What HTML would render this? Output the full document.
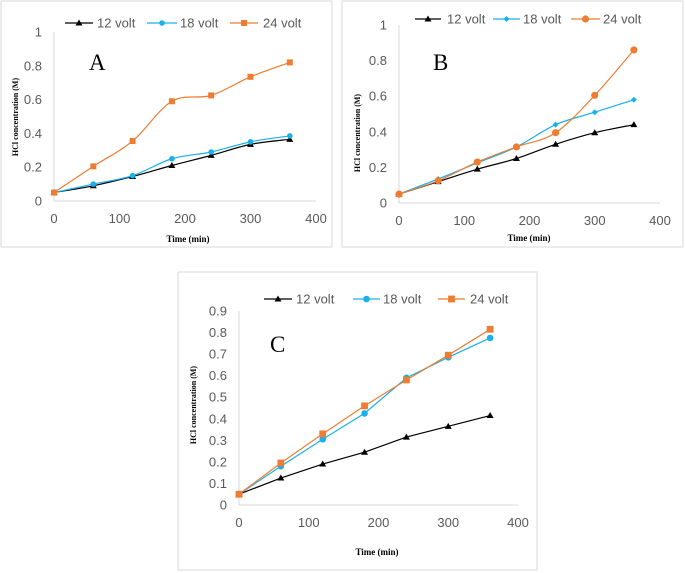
<!DOCTYPE html>
<html><head><meta charset="utf-8"><style>
body{margin:0;background:#fff;width:685px;height:573px;overflow:hidden}
svg{position:absolute;left:0;top:0}
text{font-family:"Liberation Sans",sans-serif}
</style></head><body>
<svg id="s" width="685" height="573"></svg>
<script>
const xCats=[0,60,120,180,240,300,360];
const xTicks=[0,100,200,300,400];
const seriesNames=["12 volt","18 volt","24 volt"];
const yTicksAB=[0,0.2,0.4,0.6,0.8,1];
const yTicksABLabels=["0","0.2","0.4","0.6","0.8","1"];
const yTicksC=[0,0.1,0.2,0.3,0.4,0.5,0.6,0.7,0.8,0.9];
const a12=[0.05,0.09,0.145,0.21,0.27,0.335,0.365];
const a18=[0.05,0.10,0.15,0.25,0.29,0.35,0.385];
const a24=[0.05,0.205,0.355,0.59,0.625,0.735,0.82];
const b12=[0.05,0.12,0.19,0.25,0.33,0.395,0.44];
const b18=[0.05,0.135,0.225,0.315,0.44,0.51,0.58];
const b24=[0.05,0.125,0.23,0.315,0.395,0.605,0.86];
const c12=[0.05,0.125,0.19,0.245,0.315,0.365,0.415];
const c18=[0.05,0.18,0.305,0.425,0.59,0.685,0.775];
const c24=[0.05,0.195,0.33,0.46,0.58,0.695,0.815];

const NS="http://www.w3.org/2000/svg";
const svg=document.getElementById('s');
function mk(tag,at,parent,txt){const e=document.createElementNS(NS,tag);for(const k in at)e.setAttribute(k,at[k]);if(txt!==undefined)e.textContent=txt;(parent||svg).appendChild(e);return e;}
const COL=["#000000","#1AB0EA","#ED7D31"];
const SERIF='font-family:"Liberation Serif",serif';
function marker(g,type,x,y,c,sz){
  let m;
  if(type==='tri')m=mk('polygon',{points:`${x},${y-3.5} ${x+3.5},${y+2.5} ${x-3.5},${y+2.5}`,fill:c},g);
  else if(type==='sq')m=mk('rect',{x:x-sz,y:y-sz,width:2*sz,height:2*sz,fill:c},g);
  else if(type==='dia')m=mk('polygon',{points:`${x},${y-sz} ${x+sz},${y} ${x},${y+sz} ${x-sz},${y}`,fill:c},g);
  else m=mk('circle',{cx:x,cy:y,r:sz,fill:c},g);
  
  
}
function pathD(pts,smooth){
  let d=`M${pts[0][0]},${pts[0][1]}`;
  for(let i=0;i<pts.length-1;i++){
    if(!smooth){d+=` L${pts[i+1][0]},${pts[i+1][1]}`;continue;}
    const p0=pts[Math.max(0,i-1)],p1=pts[i],p2=pts[i+1],p3=pts[Math.min(pts.length-1,i+2)];
    const t=1/6;
    d+=` C${p1[0]+(p2[0]-p0[0])*t},${p1[1]+(p2[1]-p0[1])*t} ${p2[0]-(p3[0]-p1[0])*t},${p2[1]-(p3[1]-p1[1])*t} ${p2[0]},${p2[1]}`;
  }
  return d;
}
function chart(o){
  const g=mk('g',{});
  
  
  const fr=mk('rect',{x:o.fx,y:o.fy,width:o.fw,height:o.fh,fill:'#fff',stroke:'#d9d9d9','stroke-width':1},g);
  
  
  const X=v=>o.x0+(o.x1-o.x0)*v/400;
  const Y=v=>o.y0-(o.y0-o.y1)*v/o.ymax;
  const ax=mk('line',{x1:o.x0,y1:o.y0,x2:o.x1,y2:o.y0,stroke:'#d9d9d9'},g);
  
  
  const ay=mk('line',{x1:o.x0,y1:o.y0,x2:o.x0,y2:Y(o.ymax),stroke:'#d9d9d9'},g);
  
  
  o.yt.forEach((v,i)=>{const t=mk('text',{x:o.x0-12,y:Y(v)+4.5,'text-anchor':'end','font-size':13,fill:'#595959'},g,o.ytl[i]);
    
    });
  xTicks.forEach(v=>{const t=mk('text',{x:X(v),y:o.y0+22,'text-anchor':'middle','font-size':13,fill:'#595959'},g,String(v));
    
    });
  const yt=mk('text',{x:o.ytx,y:o.yty,'text-anchor':'middle','font-size':8,'font-weight':'bold',style:SERIF,transform:`rotate(-90 ${o.ytx} ${o.yty})`},g,'HCl concentration (M)');
  
  
  const xt=mk('text',{x:o.xtx,y:o.xty,'text-anchor':'middle','font-size':9,'font-weight':'bold',style:SERIF},g,'Time (min)');
  
  
  const lb=mk('text',{x:o.lx,y:o.ly,'font-size':23,style:SERIF},g,o.id);
  
  
  o.series.forEach((s,k)=>{
    const pts=xCats.map((x,i)=>[X(x),Y(s[i])]);
    const p=mk('path',{d:pathD(pts,o.smooth),fill:'none',stroke:COL[k],'stroke-width':1.2},g);
    
    
    pts.forEach(q=>marker(g,o.mk[k],q[0],q[1],COL[k],o.msz[k]));
    const lg=mk('g',{},g);
    
    
    const [l0,l1,tx]=o.leg[k];
    mk('line',{x1:l0,y1:o.legy,x2:l1,y2:o.legy,stroke:COL[k],'stroke-width':1.2},lg);
    marker(lg,o.mk[k],(l0+l1)/2,o.legy,COL[k],o.msz[k]);
    mk('text',{x:tx,y:o.legy+4.5,'font-size':13,fill:'#595959'},lg,seriesNames[k]);
  });
}
chart({id:'A',fx:1,fy:1,fw:331,fh:246,x0:54,x1:316,y0:201,y1:32,ymax:1,yt:yTicksAB,ytl:yTicksABLabels,
  ytx:18,yty:117,xtx:188,xty:242,lx:89,ly:70,smooth:true,series:[a12,a18,a24],mk:['tri','circ','sq'],msz:[3,2.8,3],
  legy:23,leg:[[65,93,97],[147,177,180],[230,258,263]]});
chart({id:'B',fx:342,fy:1,fw:341,fh:246,x0:399,x1:660,y0:203,y1:25,ymax:1,yt:yTicksAB,ytl:yTicksABLabels,
  ytx:360,yty:133,xtx:529,xty:241,lx:433,ly:70,smooth:true,series:[b12,b18,b24],mk:['tri','dia','circ'],msz:[3,3,3.6],
  legy:19,leg:[[415,441,447],[493,520,523],[571,600,603]]});
chart({id:'C',fx:178,fy:272,fw:359,fh:298,x0:239,x1:518,y0:505,y1:311,ymax:0.9,yt:yTicksC,ytl:yTicksC.map(String),
  ytx:196,yty:405,xtx:377,xty:555,lx:270,ly:352,smooth:false,series:[c12,c18,c24],mk:['tri','circ','sq'],msz:[3,3.3,3.4],
  legy:299,leg:[[264,292,296],[353,380,383],[438,465,470]]});
</script>
</body></html>
